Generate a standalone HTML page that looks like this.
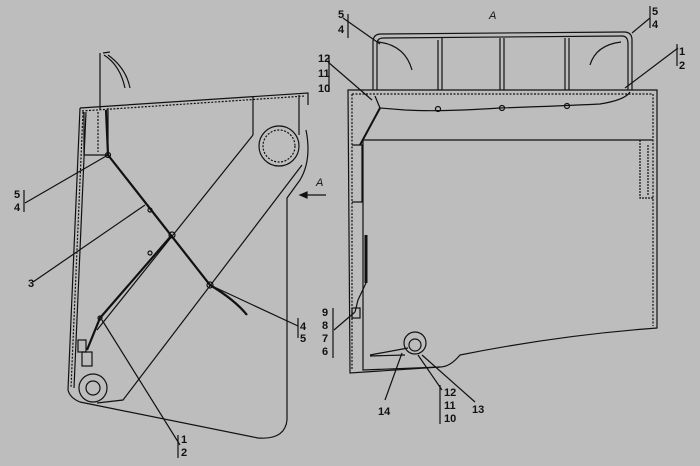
<!DOCTYPE html>
<html><head><meta charset="utf-8"><style>
html,body{margin:0;padding:0;background:#bdbdbd;}
svg{display:block}
text{font-family:"Liberation Sans",sans-serif;font-size:11px;fill:#111;}
</style></head><body>
<svg width="700" height="466" viewBox="0 0 700 466" xmlns="http://www.w3.org/2000/svg">
<rect width="700" height="466" fill="#bdbdbd"/>
<g fill="none" stroke="#111" stroke-width="1.2">
<!-- LEFT VIEW -->
<path d="M80,108 L308,93 L308,105"/>
<path d="M82,111 L305,96" stroke-dasharray="2,1.5"/>
<path d="M80,108 L68,390 Q70,398 80,402 L258,438 Q285,440 287,420 L287,198 L300,180 Q312,160 306,130"/>
<path d="M83,112 L71,388" stroke-dasharray="2,1.5"/>
<path d="M86,112 L74,388"/>
<circle cx="279" cy="146" r="20"/>
<circle cx="279" cy="146" r="16" stroke-dasharray="2,1.5"/>
<path d="M253,97 L253,135 M299,95 L299,135"/>
<circle cx="93" cy="388" r="14"/>
<circle cx="93" cy="388" r="7"/>
<path d="M253,135 L97,330"/>
<path d="M302,165 L123,400 L97,403"/>
<path d="M84,112 L84,155 L108,155 L108,108"/>
<path d="M98,112 L98,152" stroke-dasharray="2,1.5"/>
<path d="M100,53 L100,110 M103,53 L110,52"/>
<path d="M104,55 Q120,65 125,88 M108,55 Q126,68 130,88"/>
<g stroke-width="2.2">
<path d="M106,110 L108,155 L210,285 Q235,300 247,315"/>
<path d="M172,235 L100,318 L87,350"/>
</g>
<circle cx="108" cy="155" r="2.5"/><circle cx="150" cy="210" r="2"/><circle cx="172" cy="235" r="3"/><circle cx="150" cy="253" r="2"/><circle cx="210" cy="285" r="3"/><circle cx="100" cy="318" r="2"/>
<rect x="78" y="340" width="8" height="12"/><rect x="82" y="352" width="10" height="14"/>
<!-- leaders left -->
<path d="M25,203 L108,155 M33,282 L145,205 M298,326 L212,286 M180,445 L102,320"/>
<path d="M24,190 L24,212 M298,318 L298,338 M178,435 L178,458"/>
<path d="M300,195 L326,195"/><path d="M300,195 L307,192 L307,198 Z" fill="#111"/>
<!-- RIGHT VIEW -->
<path d="M348,90 L657,90 L657,328 Q560,335 460,355 Q450,367 440,367 L350,373 Z"/>
<path d="M352,94 L653,94 M352,94 L352,370 M653,94 L653,326" stroke-dasharray="2,1.5"/>
<path d="M363,140 L653,140 M363,140 L363,370 L440,367"/>
<path d="M640,140 L640,198 L653,198 M648,145 L648,195" stroke-dasharray="2,1"/>
<path d="M352,145 L362,145 L362,202 L352,202"/>
<path d="M373,90 L373,42 Q373,34 381,34 L624,32 Q632,32 632,40 L632,90"/>
<path d="M377,90 L377,44 Q377,38 383,38 L622,36 Q628,36 628,44 L628,90"/>
<path d="M438,40 L438,90 M442,38 L442,90 M500,38 L500,90 M504,38 L504,90 M565,38 L565,90 M569,38 L569,90"/>
<path d="M378,42 Q405,45 412,70 M621,42 Q596,45 590,65"/>
<path d="M375,96 L380,108 L405,110 Q440,112 500,108 Q560,106 600,104 Q625,100 630,92"/>
<path d="M380,108 L360,145" stroke-width="2"/>
<circle cx="438" cy="109" r="2.5"/><circle cx="502" cy="108" r="2.5"/><circle cx="567" cy="106" r="2.5"/>
<path d="M366,235 L366,283" stroke-width="3"/>
<path d="M366,283 L358,300 L355,312"/>
<rect x="352" y="308" width="8" height="10"/>
<circle cx="415" cy="343" r="11"/><circle cx="415" cy="345" r="6"/>
<path d="M370,355 L408,348 M370,356 L405,355"/>
<!-- leaders right -->
<path d="M343,18 L380,44 M632,33 L650,18 M625,88 L678,48 M328,62 L372,100 M355,312 L334,330 M402,353 L385,400 M418,355 L442,390 M422,355 L475,402"/>
<path d="M348,14 L348,38 M650,6 L650,28 M677,44 L677,66 M329,55 L329,92 M333,308 L333,358 M440,385 L440,424"/>
</g>
<g font-weight="bold">
<text x="14" y="198">5</text><text x="14" y="211">4</text>
<text x="28" y="287">3</text>
<text x="300" y="330">4</text><text x="300" y="342">5</text>
<text x="181" y="443">1</text><text x="181" y="456">2</text>
<text x="338" y="18">5</text><text x="338" y="33">4</text>
<text x="652" y="15">5</text><text x="652" y="28">4</text>
<text x="679" y="55">1</text><text x="679" y="69">2</text>
<text x="318" y="62">12</text><text x="318" y="77">11</text><text x="318" y="92">10</text>
<text x="322" y="316">9</text><text x="322" y="329">8</text><text x="322" y="342">7</text><text x="322" y="355">6</text>
<text x="378" y="415">14</text>
<text x="444" y="396">12</text><text x="444" y="409">11</text><text x="444" y="422">10</text>
<text x="472" y="413">13</text>
</g>
<text x="316" y="186" font-style="italic">A</text>
<text x="489" y="19" font-style="italic">A</text>
</svg>
</body></html>
